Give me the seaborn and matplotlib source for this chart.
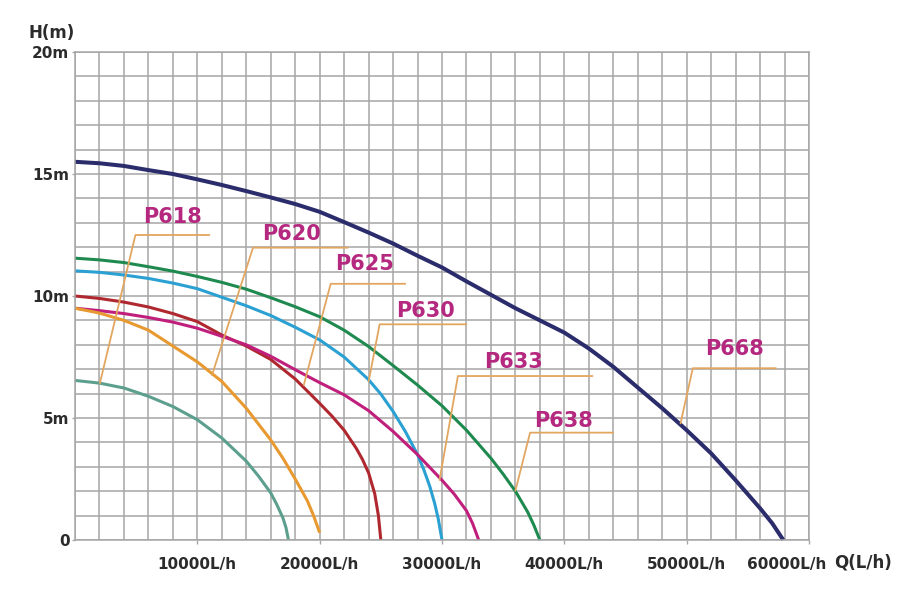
import numpy as np
import pandas as pd
import matplotlib
matplotlib.use("Agg")
import matplotlib.pyplot as plt
import matplotlib.transforms as mtransforms
import seaborn as sns

# ---- data (flow Q in L/h, head H in m) ----
q_p668 = [0, 2000, 4000, 6000, 8000, 10000, 12000, 14000, 16000, 18000, 20000, 22000, 24000,
          26000, 28000, 30000, 32000, 34000, 36000, 38000, 40000, 42000, 44000, 46000, 48000,
          50000, 52000, 54000, 56000, 57000, 57900]
h_p668 = [15.5, 15.44, 15.33, 15.16, 15.0, 14.78, 14.55, 14.3, 14.04, 13.77, 13.45, 13.03, 12.6,
          12.15, 11.65, 11.17, 10.6, 10.05, 9.5, 9.0, 8.5, 7.85, 7.1, 6.25, 5.4,
          4.5, 3.55, 2.45, 1.3, 0.68, 0.0]

q_p638 = [0, 2000, 4000, 6000, 8000, 10000, 12000, 14000, 16000, 18000, 20000, 22000, 24000,
          26000, 28000, 30000, 32000, 34000, 35000, 36000, 37000, 37500, 38000]
h_p638 = [11.55, 11.48, 11.37, 11.2, 11.02, 10.8, 10.56, 10.28, 9.93, 9.56, 9.15, 8.6, 7.93,
          7.15, 6.35, 5.5, 4.5, 3.35, 2.7, 2.0, 1.15, 0.62, 0.0]

q_p630 = [0, 2000, 4000, 6000, 8000, 10000, 12000, 14000, 16000, 18000, 20000, 22000, 24000,
          25000, 26000, 27000, 28000, 28500, 29000, 29400, 29700, 30000]
h_p630 = [11.03, 10.97, 10.86, 10.72, 10.53, 10.3, 9.95, 9.6, 9.2, 8.72, 8.2, 7.5, 6.57,
          5.98, 5.27, 4.45, 3.5, 2.9, 2.2, 1.5, 0.85, 0.0]

q_p625 = [0, 2000, 4000, 6000, 8000, 10000, 12000, 14000, 16000, 18000, 20000, 21000, 22000,
          23000, 23500, 24000, 24500, 24800, 25000]
h_p625 = [10.0, 9.9, 9.75, 9.55, 9.28, 8.95, 8.4, 7.95, 7.4, 6.6, 5.6, 5.08, 4.5,
          3.75, 3.3, 2.75, 1.9, 1.0, 0.0]

q_p633 = [0, 2000, 4000, 6000, 8000, 10000, 12000, 14000, 16000, 18000, 20000, 22000, 24000,
          26000, 28000, 30000, 31000, 32000, 32500, 33000]
h_p633 = [9.5, 9.4, 9.28, 9.12, 8.93, 8.68, 8.35, 8.0, 7.53, 6.98, 6.45, 5.95, 5.3,
          4.45, 3.5, 2.45, 1.88, 1.2, 0.68, 0.0]

q_p620 = [0, 2000, 4000, 6000, 8000, 10000, 12000, 14000, 16000, 17000, 18000, 19000, 19500, 20000]
h_p620 = [9.5, 9.3, 9.0, 8.6, 7.95, 7.3, 6.5, 5.4, 4.1, 3.35, 2.5, 1.6, 1.0, 0.3]

q_p618 = [0, 2000, 4000, 6000, 8000, 10000, 12000, 14000, 15000, 16000, 16500, 17000, 17250, 17450]
h_p618 = [6.54, 6.43, 6.23, 5.89, 5.47, 4.93, 4.18, 3.23, 2.62, 1.93, 1.45, 0.9, 0.5, 0.0]

models = ["P668", "P638", "P630", "P625", "P633", "P620", "P618"]
series_q = [q_p668, q_p638, q_p630, q_p625, q_p633, q_p620, q_p618]
series_h = [h_p668, h_p638, h_p630, h_p625, h_p633, h_p620, h_p618]
colors = ["#2b2c6b", "#1f8a4f", "#2ba0d2", "#b0282f", "#c01f7c", "#e8992f", "#5d9f8e"]
widths = [2.9, 2.2, 2.2, 2.2, 2.2, 2.2, 2.2]

# label annotation: (tip_q, tip_h, corner_q, corner_h, end_q, text_q, text_baseline_h)
label_names = ["P618", "P620", "P625", "P630", "P633", "P638", "P668"]
label_tip_q = [2030, 11200, 18700, 24000, 29800, 36000, 49500]
label_tip_h = [6.42, 6.76, 6.35, 6.49, 2.46, 2.02, 4.78]
label_corner_q = [4940, 14550, 20900, 24900, 31300, 37200, 50500]
label_corner_h = [12.5, 11.98, 10.5, 8.84, 6.72, 4.4, 7.04]
label_end_q = [10980, 22300, 27000, 32000, 42300, 44000, 57300]
label_text_q = [7960, 17660, 23710, 28690, 35820, 39900, 53920]
label_text_h = [12.98, 12.3, 11.07, 9.15, 7.04, 4.64, 7.58]

x_ticks = [10000, 20000, 30000, 40000, 50000, 60000]
x_tick_labels = ["10000L/h", "20000L/h", "30000L/h", "40000L/h", "50000L/h", "60000L/h"]
y_ticks = [0, 5, 10, 15, 20]
y_tick_labels = ["0", "5m", "10m", "15m", "20m"]

# ---- long-format table ----
rows = []
for name, qs, hs in zip(models, series_q, series_h):
    for q, h in zip(qs, hs):
        rows.append({"model": name, "Q": q, "H": h})
df = pd.DataFrame(rows)

sns.set_style("white")
plt.rcParams["font.family"] = ["DejaVu Sans"]

fig = plt.figure(figsize=(9.14, 5.98), dpi=100)
ax = fig.add_axes([75 / 914, 58 / 598, 734 / 914, 488 / 598])

grid_col = "#a6a6a6"
ax.set_xlim(0, 60000)
ax.set_ylim(0, 20)
ax.set_xticks(np.arange(0, 60001, 2000), minor=True)
ax.set_yticks(np.arange(0, 21, 1), minor=True)
ax.grid(True, which="both", color=grid_col, linewidth=1.1)
ax.set_axisbelow(True)
for s in ax.spines.values():
    s.set_color(grid_col)
    s.set_linewidth(1.1)

for name, col, lw in zip(models, colors, widths):
    sns.lineplot(data=df[df["model"] == name], x="Q", y="H", color=col, linewidth=lw,
                 ax=ax, sort=False, estimator=None, legend=False, clip_on=False,
                 solid_capstyle="butt", solid_joinstyle="round")

lead_col = "#e2a660"
for i, name in enumerate(label_names):
    ax.plot([label_tip_q[i], label_corner_q[i], label_end_q[i]],
            [label_tip_h[i], label_corner_h[i], label_corner_h[i]],
            color=lead_col, linewidth=1.3, zorder=3)
    ax.text(label_text_q[i], label_text_h[i], name, color="#b5287f", fontsize=15,
            fontweight="bold", ha="center", va="baseline", zorder=4)

txt_col = "#2b2b2b"
ax.set_xticks(x_ticks)
ax.set_xticklabels(x_tick_labels)
ax.set_yticks(y_ticks)
ax.set_yticklabels(y_tick_labels)
ax.tick_params(axis="x", which="major", length=3, width=1, color=grid_col, pad=9,
               labelsize=11, labelcolor=txt_col, bottom=True)
ax.tick_params(axis="y", which="major", length=2, width=1, color=grid_col, pad=2,
               labelsize=11, labelcolor=txt_col, left=True)
ax.tick_params(which="minor", length=0)
for lab in ax.get_xticklabels() + ax.get_yticklabels():
    lab.set_fontweight("bold")
# the last x label sits left of its tick in the reference
last = ax.get_xticklabels()[-1]
last.set_transform(last.get_transform() +
                   mtransforms.ScaledTranslation(-22 / 100, 0, fig.dpi_scale_trans))
ax.set_xlabel("")
ax.set_ylabel("")

fig.text(52 / 914, 1 - 33 / 598, "H(m)", fontsize=12, fontweight="bold", color=txt_col,
         ha="center", va="center")
fig.text(863 / 914, 1 - 562 / 598, "Q(L/h)", fontsize=12, fontweight="bold", color=txt_col,
         ha="center", va="center")

fig.savefig("out.png", dpi=100, facecolor="white")
